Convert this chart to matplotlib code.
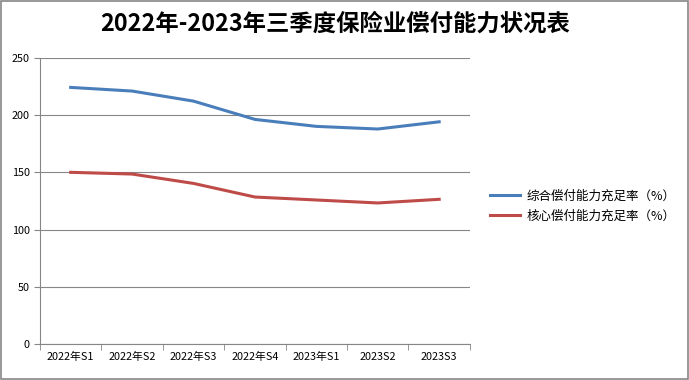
import numpy as np
import matplotlib.pyplot as plt
from matplotlib.patches import Rectangle

plt.rcParams['font.family'] = ['Noto Sans CJK SC', 'DejaVu Sans']

# 数据
periods = ['2022年S1', '2022年S2', '2022年S3', '2022年S4', '2023年S1', '2023S2', '2023S3']
zonghe = [224.4, 221.2, 212.4, 196.4, 190.3, 188.0, 194.3]
hexin = [150.1, 148.6, 140.4, 128.5, 125.9, 123.3, 126.5]

fig = plt.figure(figsize=(6.89, 3.8), dpi=100)
ax = fig.add_axes([0.058, 0.095, 0.624, 0.752])

x = np.arange(len(periods))
ax.plot(x, zonghe, color='#4A7EBB', lw=2.2, label='综合偿付能力充足率（%）')
ax.plot(x, hexin, color='#BE4B48', lw=2.2, label='核心偿付能力充足率（%）')

ax.set_xlim(-0.5, len(periods) - 0.5)
ax.set_ylim(0, 250)
ax.set_yticks(range(0, 251, 50))
ax.set_xticks(x)
ax.set_xticklabels(periods, fontsize=7.8)
ax.set_xticks(np.arange(-0.5, len(periods), 1), minor=True)
ax.tick_params(axis='x', which='major', length=0, pad=6)
ax.tick_params(axis='x', which='minor', length=4, color='#868686')
ax.tick_params(axis='y', length=4, color='#868686', labelsize=7.8)

ax.grid(axis='y', color='#868686', lw=0.8)
ax.set_axisbelow(True)
for s in ['top', 'right']:
    ax.spines[s].set_visible(False)
for s in ['left', 'bottom']:
    ax.spines[s].set_color('#868686')
    ax.spines[s].set_linewidth(0.8)

fig.text(0.487, 0.938, '2022年-2023年三季度保险业偿付能力状况表', ha='center', va='center',
         fontsize=16.8, fontweight='bold')

fig.legend(loc='center left', bbox_to_anchor=(0.695, 0.458), frameon=False,
           fontsize=9, handlelength=2.4, handletextpad=0.5, labelspacing=0.55)

fig.patches.append(Rectangle((0.001, 0.002), 0.997, 0.995, transform=fig.transFigure,
                             fill=False, edgecolor='#868686', lw=1.2))

fig.savefig('out.png', dpi=100)
